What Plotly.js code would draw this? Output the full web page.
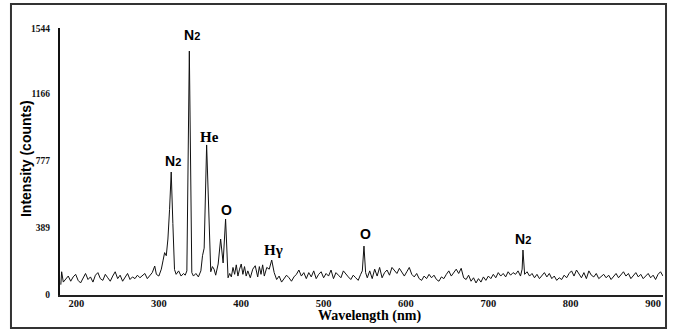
<!DOCTYPE html>
<html>
<head>
<meta charset="utf-8">
<script src="https://cdn.plot.ly/plotly-3.0.1.min.js"></script>
<style>html,body{margin:0;padding:0;background:#fff;}#chart{width:674px;height:335px;}</style>
</head>
<body>
<div id="chart"></div>
<script>
// Wavelength (nm)
const wavelength = [
  181,182,184,187,190,193,196,199,202,205,
  208,211,214,217,220,223,226,229,232,235,
  238,241,244,247,250,253,256,259,262,265,
  268,271,274,277,280,283,286,289,292,295,
  297,300,303,305,307,309,311,313,315,317,
  319,321,324,327,330,332,334,337,340,342,
  345,348,351,353,355,358,361,363,365,367,
  369,372,375,378,381,384,386,388,390,392,
  394,396,398,400,402,404,406,408,411,414,
  417,420,422,424,426,428,431,434,437,440,
  443,446,449,452,455,458,461,464,467,470,
  473,476,479,482,485,488,491,494,497,500,
  503,506,509,512,515,518,521,524,527,530,
  533,536,539,542,545,547,549,551,553,556,
  559,562,565,568,571,574,577,580,583,586,
  589,592,595,598,601,604,607,610,613,616,
  619,622,625,628,631,634,637,640,643,646,
  649,652,655,658,661,664,667,670,673,676,
  679,682,685,688,691,694,697,700,703,706,
  709,712,715,718,721,724,727,730,733,736,
  739,741,742,744,747,750,753,756,759,762,
  765,768,771,774,777,780,783,786,789,792,
  795,798,801,804,807,810,813,816,819,822,
  825,828,831,834,837,840,843,846,849,852,
  855,858,861,864,867,870,873,876,879,882,
  885,888,891,894,897,900,903,906,909,912
];
// Intensity (counts)
const intensity = [
  60,135,75,95,110,80,105,120,85,70,
  100,125,90,105,75,115,130,95,85,120,
  100,80,110,135,95,115,80,100,125,90,
  105,95,115,100,110,125,95,110,130,168,
  120,110,150,198,246,228,325,495,714,415,
  148,120,140,110,125,115,140,1416,130,110,
  125,105,140,228,272,871,395,135,165,150,
  115,180,325,186,441,100,125,105,160,120,
  175,110,150,180,120,165,110,140,100,150,
  170,105,165,120,175,110,160,150,203,130,
  90,110,75,95,115,100,80,105,120,145,
  110,130,95,130,105,140,95,120,135,100,
  125,110,145,95,130,115,100,140,120,105,
  90,115,100,85,120,140,284,130,100,140,
  95,150,110,160,100,130,145,115,160,140,
  125,155,130,110,135,160,120,105,125,95,
  85,110,95,120,100,115,90,80,105,95,
  120,140,110,130,150,125,155,100,90,115,
  80,100,70,95,75,105,85,110,95,120,
  100,130,110,125,105,135,115,130,120,140,
  110,150,261,120,135,110,125,100,120,95,
  115,130,105,125,95,110,85,100,90,115,
  100,125,140,110,145,120,100,130,95,140,
  115,105,125,95,110,120,100,115,90,105,
  125,100,115,135,110,125,95,115,130,105,
  120,95,110,125,100,115,90,120,135,110
];
const xTicks = [200,300,400,500,600,700,800,900];
const yTicks = [0,389,777,1166,1544];

// Peak labels
const peakLabels = ["N<span style='font-size:11px'>2</span>","N<span style='font-size:11px'>2</span>","He","O","H\u03b3","O","N<span style='font-size:11px'>2</span>"];
const peakLabelX = [340.6,317.5,361.2,381.9,438.9,550.5,742.2];
const peakLabelY = [1509,778,917,493,261,354,325];
const peakLabelSerif = [false,false,true,false,true,false,false];

const sans = "Liberation Sans, Arial, sans-serif";
const serif = "Liberation Serif, Times New Roman, serif";

const annotations = peakLabels.map((t,i)=>({
  x: peakLabelX[i], y: peakLabelY[i], xref:'x', yref:'y', text:t, showarrow:false,
  font:{family: peakLabelSerif[i]?serif:sans, size: peakLabelSerif[i]?15:14, color:'#000', weight:'bold'}
}));
annotations.push({
  x:-0.0564, y:0.513, xref:'paper', yref:'paper', text:'Intensity (counts)', textangle:-90,
  showarrow:false, xanchor:'center', yanchor:'middle',
  font:{family:sans, size:14, color:'#000', weight:'bold'}
});
annotations.push({
  x:0.514, y:-0.0787, xref:'paper', yref:'paper', text:'Wavelength (nm)',
  showarrow:false, xanchor:'center', yanchor:'middle',
  font:{family:serif, size:14, color:'#000', weight:'bold'}
});

const trace = {
  x: wavelength, y: intensity, type:'scatter', mode:'lines',
  line:{color:'#111', width:1}, hoverinfo:'skip'
};

const layout = {
  width:674, height:335,
  margin:{l:60, r:11, t:28, b:40, pad:0},
  paper_bgcolor:'#fff', plot_bgcolor:'#fff',
  showlegend:false,
  xaxis:{
    range:[180,912], showgrid:false, zeroline:false, showline:true,
    linecolor:'#222', linewidth:2, ticks:'', tickvals:xTicks,
    ticklabelstandoff:-3,
    tickfont:{family:serif, size:10.5, color:'#111', weight:'bold'}
  },
  yaxis:{
    range:[0,1550], showgrid:false, zeroline:false, showline:true,
    linecolor:'#111', linewidth:2, ticks:'', tickvals:yTicks,
    ticklabelstandoff:6,
    tickfont:{family:serif, size:9.5, color:'#111', weight:'bold'}
  },
  annotations: annotations,
  shapes:[{type:'rect', xref:'paper', yref:'paper', x0:-0.0813, x1:1.005, y0:-0.1236, y1:1.0899,
    line:{color:'#333', width:2}, fillcolor:'rgba(0,0,0,0)', layer:'above'}]
};

Plotly.newPlot('chart',[trace],layout,{staticPlot:true, displayModeBar:false});
</script>
</body>
</html>
